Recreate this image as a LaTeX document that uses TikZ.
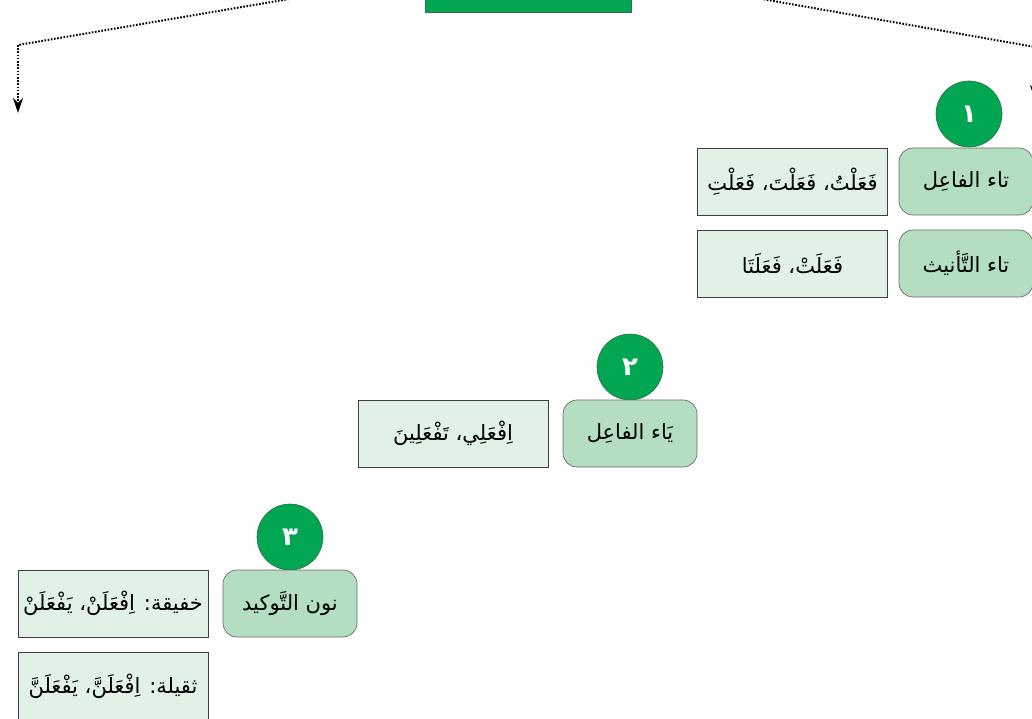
\documentclass[tikz,border=0pt]{standalone}
\usepackage{fontspec}
\usetikzlibrary{arrows.meta}
\TeXXeTstate=1
\newfontfamily\arabicfont[Script=Arabic]{DejaVu Sans}
\definecolor{circgreen}{HTML}{00A651}
\definecolor{circedge}{HTML}{2F6F45}
\definecolor{labfill}{HTML}{B4DEC1}
\definecolor{labedge}{HTML}{6A6A6A}
\definecolor{exfill}{HTML}{E1F1E5}
\definecolor{exedge}{HTML}{404040}
\tikzset{
  numcirc/.style={circle, fill=circgreen, draw=circedge, line width=0.6pt,
    minimum size=66pt, inner sep=0pt, text=white,
    font=\arabicfont\bfseries\fontsize{26}{28}\selectfont},
  labbox/.style={rectangle, rounded corners=14pt, fill=labfill, draw=labedge,
    line width=0.7pt, minimum width=134pt, minimum height=67pt, inner sep=0pt,
    font=\arabicfont\fontsize{21}{24}\selectfont},
  exbox/.style={rectangle, fill=exfill, draw=exedge, line width=0.8pt,
    minimum width=190pt, minimum height=67pt, inner sep=0pt,
    font=\arabicfont\fontsize{21}{24}\selectfont},
  topbox/.style={rectangle, fill=circgreen, draw=circedge, line width=0.6pt,
    minimum width=206pt, minimum height=72pt, inner sep=0pt},
  dotline/.style={line width=2pt, dash pattern=on 1.6pt off 1.6pt},
  dotarrow/.style={dotline, -{Stealth[length=15pt,width=10pt]}}
}
\begin{document}
\begin{tikzpicture}[x=1pt,y=-1pt]
\useasboundingbox (0,0) rectangle (1032,719);
\clip (0,0) rectangle (1032,719);

% top box (only its bottom is visible)
\node[topbox] (top) at (528,-24) {};
\coordinate (lcorner) at (18,45);
\coordinate (lend) at (18,113);
\coordinate (rcorner) at (1035,47);
\coordinate (rend) at (1035,100);
\draw[dotline] (top.west) -- (lcorner);
\draw[dotarrow] (lcorner) -- (lend);
\draw[dotline] (top.east) -- (rcorner);
\draw[dotarrow] (rcorner) -- (rend);

% group 1
\node[numcirc] (c1) at (969,114) {١};
\node[labbox] (l1a) at (966,181.5) {\beginR تاء الفاعِل\endR};
\node[labbox] (l1b) at (966,263.5) {\beginR تاء التَّأنيث\endR};
\node[exbox] (e1a) at (792.5,181.5) {\beginR فَعَلْتُ، فَعَلْتَ، فَعَلْتِ\endR};
\node[exbox] (e1b) at (792.5,263.5) {\beginR فَعَلَتْ، فَعَلَتَا\endR};

% group 2
\node[numcirc] (c2) at (630,367) {٢};
\node[labbox] (l2) at (630,433.5) {\beginR يَاء الفاعِل\endR};
\node[exbox] (e2) at (453,433.5) {\beginR اِفْعَلِي، تَفْعَلِينَ\endR};

% group 3
\node[numcirc] (c3) at (290,537) {٣};
\node[labbox] (l3) at (290,603.5) {\beginR نون التَّوكيد\endR};
\node[exbox] (e3a) at (113,603.5) {\beginR خفيقة: اِفْعَلَنْ، يَفْعَلَنْ\endR};
\node[exbox, minimum height=80pt] (e3b) at (113,692) {};
\node[font=\arabicfont\fontsize{21}{24}\selectfont] (e3bt) at (113,686.5) {\beginR ثقيلة: اِفْعَلَنَّ، يَفْعَلَنَّ\endR};
\end{tikzpicture}
\end{document}
